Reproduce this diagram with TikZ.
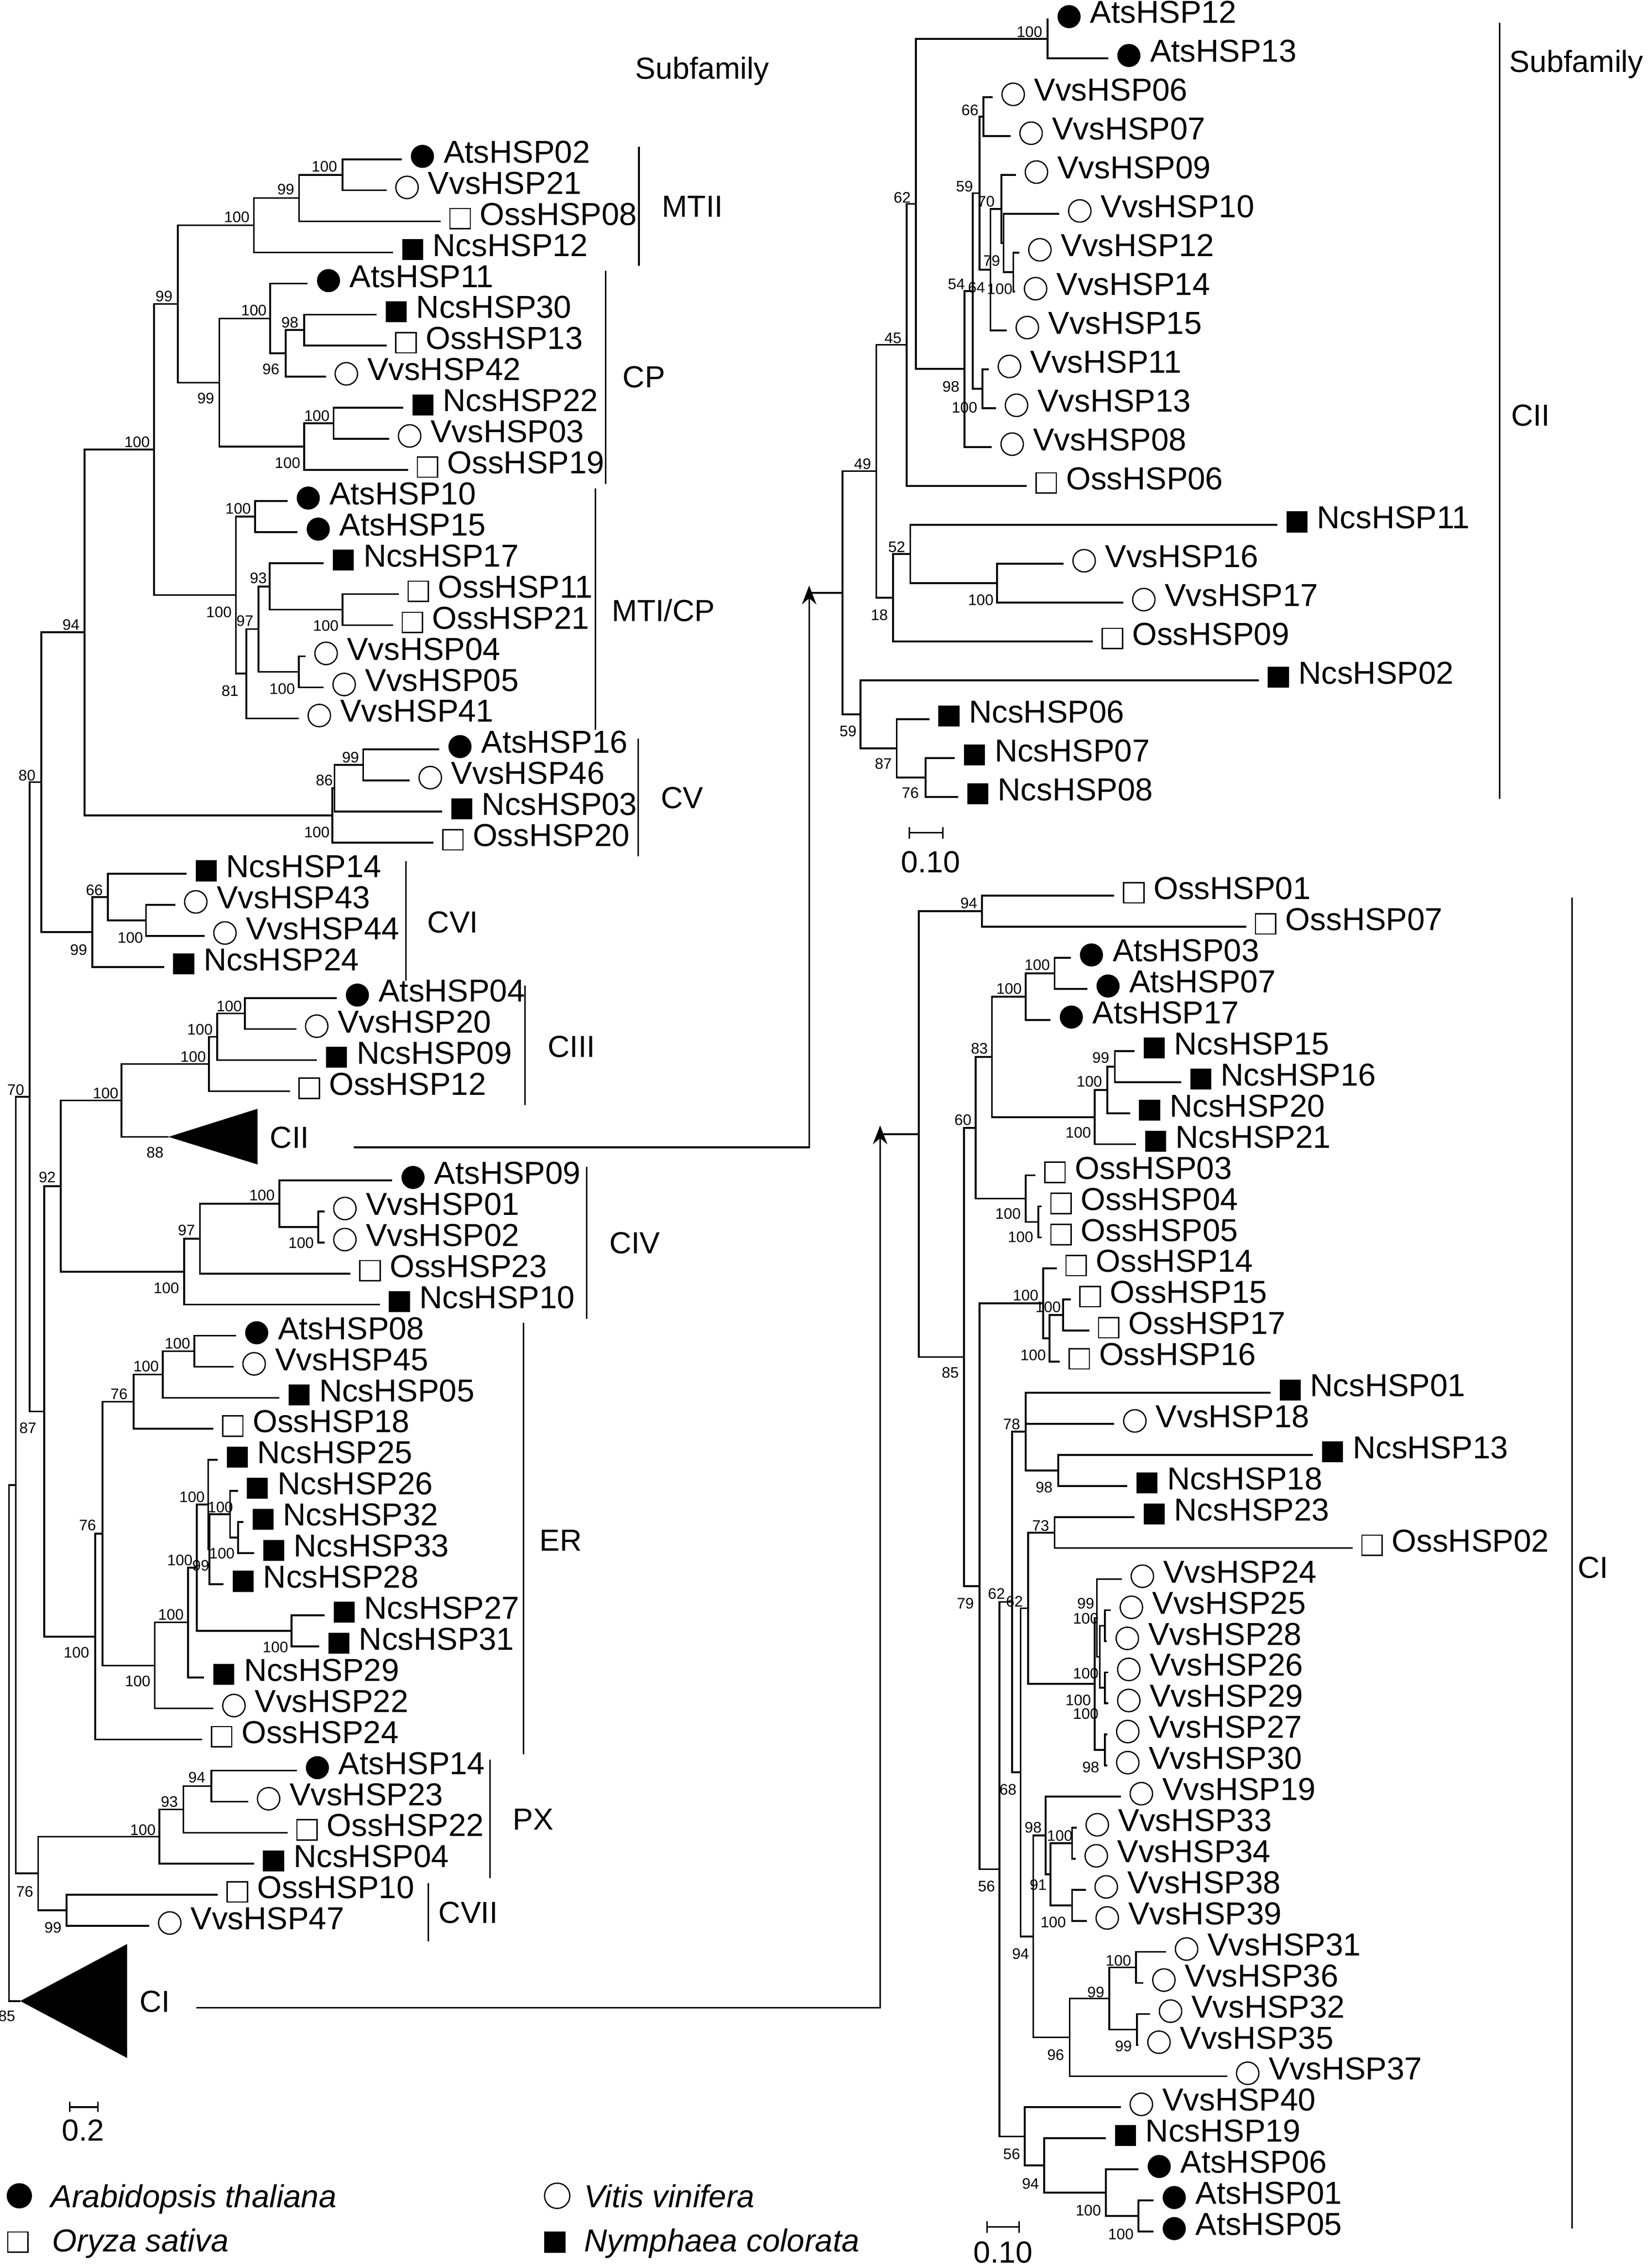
\documentclass[tikz,border=0pt]{standalone}
\usepackage{fontspec}
\setmainfont{Liberation Sans}
\usetikzlibrary{positioning,arrows.meta}

\tikzset{
  branch/.style={line width=0.7pt},
  ats/.style={circle, fill=black, inner sep=0, minimum size=0.32cm},
  vvs/.style={circle, draw, line width=0.5pt, inner sep=0, minimum size=0.31cm},
  oss/.style={rectangle, draw, line width=0.5pt, inner sep=0, minimum size=0.28cm},
  ncs/.style={rectangle, fill=black, inner sep=0, minimum size=0.29cm},
  leaf/.style={inner sep=0, font=\fontsize{12.5}{14}\selectfont},
  bs/.style={inner sep=0, font=\fontsize{6}{7}\selectfont},
  clade/.style={inner sep=0, anchor=base west, font=\fontsize{12}{14}\selectfont},
  bar/.style={line width=0.6pt},
  link/.style={line width=0.6pt, -{Stealth[length=0.26cm, width=0.2cm]}},
}

% internal nodes: name/parent/x/row
\def\treeL{nMTa/nMTb/237/0.5, nMTb/nMT/207/1.25, nMT/nMC/175.7/2.125,
  nC3/nC2/210.5/5.5, nC2/nC1/197.8/6.25, nC1/nCP/187/5.125, nC5/nC4/230.8/8.5,
  nC4/nCP/210.5/9.25, nCP/nMC/151.8/7.19, nMC/nP1/123/4.66,
  nM1/nMI/176.6/11.5, nM3/nM2/237/14.5, nM2/nM6/186.6/13.75, nM5/nM6/206.8/16.5,
  nM6/nM4/178.8/15.125, nM4/nMI/170.4/16.56, nMI/nP1/163.3/14.03, nP1/nP2/106.7/9.34,
  nCV1/nCVa/251.3/19.5, nCVa/nCVb/231.5/20.25, nCVb/nP2/230/21.125, nP2/nP3/58.5/15.23,
  nV2/nV1/101/24.5, nV1/nCVI/74.6/23.75, nCVI/nP3/63.8/24.875, nP3/nP4/28.6/20.05,
  nIII2/nIII1/169.5/27.5, nIII1/nCIII/150.2/28.25, nCIII/nC23/144.6/29.125,
  nCIIt/nC23/116.6/31.47, nC23/nQ/84/30.3,
  nIV3/nIV2/220.2/34.37, nIV2/nIV1/193.4/33.62, nIV1/nCIV/138.4/34.745,
  nCIV/nQ/127.5/35.81, nQ/nR/42/33.06,
  nE3/nE2/134.4/38.37, nE2/nE1/112.6/39.12, nE1/nE11/92.4/39.995,
  nE6/nE5/164.8/44.37, nE5/nE4b/159.2/43.62, nE4b/nE4/145/44.745, nE4/nE8/144.1/43.31,
  nE7/nE8/201.8/47.37, nE8/nE9/136.2/45.34, nE9/nE10/130.1/47.1, nE10/nE11/107.1/48.49,
  nE11/nE12/70.9/44.24, nE12/nR/65.9/47.56, nR/nP4/30.5/40.31, nP4/nP5/20.5/30.18,
  nPX1/nPX2/146.2/52.37, nPX2/nPX/126.9/53.12, nPX/nPXC/110.4/54,
  nCVII/nPXC/46/56.37, nPXC/nP5/26.4/55.18, nP5/nP6/10.9/42.68, nCIt/nP6/14/59.29}

\def\treeK{nK1/nK2/724.9/0.5, nK6/nK7/680.6/2.5, nK12/nK11/701.3/6.5,
  nK11/nK10/694.5/5.75, nK10/nK8/693/4.875, nK8/nK7/685.5/6.44, nK7/nK13/678/4.47,
  nK5/nK13/679.9/9.5, nK13/nK3/673.1/6.985, nK3/nK2/667.5/8.99, nK2/nK14/633.8/4.745,
  nK14/nK15/627.4/8.37, nK18/nK17/690/14.5, nK17/nK16/630/13.75, nK16/nK15/618/14.875,
  nK15/nK19/606.4/11.62, nK22/nK21/640.5/19.5, nK21/nK20/620.6/18.75, nK20/nK19/595.5/17.875}

\def\treeI{nI1/nI0/679.6/0.5, nI7/nI5/729.9/2.5, nI5/nI4/709.8/3.25,
  nI9/nI8/771.6/5.5, nI8/nI6/766.3/6.25, nI6/nI4/757.7/7.125, nI4/nI3/686.5/5.19,
  nI11/nI10/718.5/10.5, nI10/nI3/709.8/9.75, nI3/nI12/675.1/7.47,
  nI15/nI14/735.8/13.5, nI14/nI13/726.4/14.25, nI13/nI16/721.9/13.125,
  nI24/nI19/732.3/18.5, nI19/nI18/709.8/17.25, nI22/nI21/729.9/20.5,
  nVd/nVc/764.6/23.5, nVe/nVc/764.6/25.5, nVc/nVa/761.1/24.5, nVa/nI23/759.1/23.25,
  nVb/nI23/764.6/27.5, nI23/nI21/757.7/25.375, nI21/nI20/711.5/22.94,
  nI29/nI28/742/30.5, nI30/nI28/742/32.5, nI28/nI26/727.1/31.5, nI26/nI25/723.7/30.25,
  nI32/nI31/786.1/34.5, nI33/nI31/786.8/36.5, nI31/nI27/767.7/35.5, nI27/nI25/740.3/36.75,
  nI25/nI20/715/33.5, nI20/nI18/706.3/28.22, nI18/nI17/700.4/22.735,
  nI37/nI36/787.9/42.5, nI36/nI35/765.3/41.75, nI35/nI34/722.6/40.875,
  nI34/nI17/709.1/39.94, nI17/nI16/691.7/31.34, nI16/nI12/678/22.23, nI12/nI0/667.1/14.85}

\begin{document}
\begin{tikzpicture}[x=0.02cm, y=-0.02cm]
    \useasboundingbox (0,0) rectangle (1143,1568);

    % left tree
    \begin{scope}[shift={(0,110.2)}, y=-0.43cm]
        \coordinate (nP6) at (6.2,50.985);
        \foreach \n/\p/\x/\r in \treeL {\coordinate (\n) at (\x,\r);}
        \foreach \n/\p/\x/\r in \treeL {\draw[branch] (\p) |- (\n);}
        \foreach \t/\p/\x/\r/\s in {AtsHSP02/nMTa/278/0/ats, VvsHSP21/nMTa/267.5/1/vvs,
            OssHSP08/nMTb/305/2/oss, NcsHSP12/nMT/272/3/ncs, AtsHSP11/nC1/213/4/ats,
            NcsHSP30/nC3/260.6/5/ncs, OssHSP13/nC3/267.5/6/oss, VvsHSP42/nC2/225.5/7/vvs,
            NcsHSP22/nC5/279/8/ncs, VvsHSP03/nC5/269.3/9/vvs, OssHSP19/nC4/282.4/10/oss,
            AtsHSP10/nM1/199/11/ats, AtsHSP15/nM1/205.9/12/ats, NcsHSP17/nM2/224/13/ncs,
            OssHSP11/nM3/276/14/oss, OssHSP21/nM3/272/15/oss, VvsHSP04/nM5/211.5/16/vvs,
            VvsHSP05/nM5/224/17/vvs, VvsHSP41/nM4/206.8/18/vvs, AtsHSP16/nCV1/304/19/ats,
            VvsHSP46/nCV1/283.6/20/vvs, NcsHSP03/nCVa/306/21/ncs, OssHSP20/nCVb/300/22/oss,
            NcsHSP14/nV1/129/23/ncs, VvsHSP43/nV2/121.3/24/vvs, VvsHSP44/nV2/141.5/25/vvs,
            NcsHSP24/nCVI/113.5/26/ncs, AtsHSP04/nIII2/233/27/ats, VvsHSP20/nIII2/205/28/vvs,
            NcsHSP09/nIII1/219.3/29/ncs, OssHSP12/nCIII/200.6/30/oss,
            AtsHSP09/nIV2/271.5/32.87/ats, VvsHSP01/nIV3/224.5/33.87/vvs,
            VvsHSP02/nIV3/224.5/34.87/vvs, OssHSP23/nIV1/242.6/35.87/oss,
            NcsHSP10/nCIV/262.8/36.87/ncs, AtsHSP08/nE3/163.3/37.87/ats,
            VvsHSP45/nE3/161.7/38.87/vvs, NcsHSP05/nE2/193.4/39.87/ncs,
            OssHSP18/nE1/147.7/40.87/oss, NcsHSP25/nE4/150.6/41.87/ncs,
            NcsHSP26/nE5/164.6/42.87/ncs, NcsHSP32/nE6/168.4/43.87/ncs,
            NcsHSP33/nE6/175.8/44.87/ncs, NcsHSP28/nE4b/154.7/45.87/ncs,
            NcsHSP27/nE7/224.5/46.87/ncs, NcsHSP31/nE7/220.9/47.87/ncs,
            NcsHSP29/nE9/141.3/48.87/ncs, VvsHSP22/nE10/147.7/49.87/vvs,
            OssHSP24/nE12/140/50.87/oss, AtsHSP14/nPX1/205.3/51.87/ats,
            VvsHSP23/nPX1/171.7/52.87/vvs, OssHSP22/nPX2/199/53.87/oss,
            NcsHSP04/nPX/175.7/54.87/ncs, OssHSP10/nCVII/150.8/55.87/oss,
            VvsHSP47/nCVII/103.3/56.87/vvs} {
            \coordinate (e\t) at (\x,\r);
            \draw[branch] (\p) |- (e\t);
            \node[\s, right=0.12cm of e\t, yshift=0.04cm] (m\t) {};
            \node[leaf, right=0.12cm of m\t, yshift=0.06cm] (\t) {\t};
        }
    \end{scope}

    % right tree, CII
    \begin{scope}[shift={(0,13.5)}, y=-0.538cm]
        \coordinate (nK19) at (583.1,14.75);
        \coordinate (kstub) at (560,14.75);
        \foreach \n/\p/\x/\r in \treeK {\coordinate (\n) at (\x,\r);}
        \foreach \n/\p/\x/\r in \treeK {\draw[branch] (\p) |- (\n);}
        \draw[branch] (kstub) -- (nK19);
        \foreach \t/\p/\x/\r/\s in {AtsHSP12/nK1/725.5/0/ats, AtsHSP13/nK1/766.9/1/ats,
            VvsHSP06/nK6/687/2/vvs, VvsHSP07/nK6/699.4/3/vvs, VvsHSP09/nK10/703.1/4/vvs,
            VvsHSP10/nK11/733.1/5/vvs, VvsHSP12/nK12/705.5/6/vvs, VvsHSP14/nK12/702.5/7/vvs,
            VvsHSP15/nK8/696.8/8/vvs, VvsHSP11/nK5/684.4/9/vvs, VvsHSP13/nK5/689.3/10/vvs,
            VvsHSP08/nK3/686.3/11/vvs, OssHSP06/nK14/710.6/12/oss, NcsHSP11/nK17/883.9/13/ncs,
            VvsHSP16/nK18/736.1/14/vvs, VvsHSP17/nK18/777.4/15/vvs, OssHSP09/nK16/756.4/16/oss,
            NcsHSP02/nK20/871.1/17/ncs, NcsHSP06/nK21/643.1/18/ncs, NcsHSP07/nK22/660.8/19/ncs,
            NcsHSP08/nK22/663/20/ncs} {
            \coordinate (e\t) at (\x,\r);
            \draw[branch] (\p) |- (e\t);
            \node[\s, right=0.12cm of e\t, yshift=0.04cm] (m\t) {};
            \node[leaf, right=0.12cm of m\t, yshift=0.06cm] (\t) {\t};
        }
    \end{scope}

    % right tree, CI
    \begin{scope}[shift={(0,619.8)}, y=-0.43cm]
        \coordinate (nI0) at (635.8,7.675);
        \coordinate (istub) at (609.1,7.675);
        \foreach \n/\p/\x/\r in \treeI {\coordinate (\n) at (\x,\r);}
        \foreach \n/\p/\x/\r in \treeI {\draw[branch] (\p) |- (\n);}
        \draw[branch] (istub) -- (nI0);
        \foreach \t/\p/\x/\r/\s in {OssHSP01/nI1/771.2/0/oss, OssHSP07/nI1/862.5/1/oss,
            AtsHSP03/nI7/741/2/ats, AtsHSP07/nI7/752.5/3/ats, AtsHSP17/nI5/727.1/4/ats,
            NcsHSP15/nI9/785.1/5/ncs, NcsHSP16/nI9/817.4/6/ncs, NcsHSP20/nI8/782/7/ncs,
            NcsHSP21/nI6/786.1/8/ncs, OssHSP03/nI10/716.7/9/oss, OssHSP04/nI11/720.9/10/oss,
            OssHSP05/nI11/720.9/11/oss, OssHSP14/nI13/731.3/12/oss, OssHSP15/nI15/741/13/oss,
            OssHSP17/nI15/753.9/14/oss, OssHSP16/nI14/733.4/15/oss, NcsHSP01/nI19/879.2/16/ncs,
            VvsHSP18/nI19/771.2/17/vvs, NcsHSP13/nI24/908.7/18/ncs, NcsHSP18/nI24/780.2/19/ncs,
            NcsHSP23/nI22/785.1/20/ncs, OssHSP02/nI22/936.1/21/oss, VvsHSP24/nVa/776.4/22/vvs,
            VvsHSP25/nVd/768.8/23/vvs, VvsHSP28/nVd/766/24/vvs, VvsHSP26/nVe/767/25/vvs,
            VvsHSP29/nVe/767/26/vvs, VvsHSP27/nVb/766.3/27/vvs, VvsHSP30/nVb/766.3/28/vvs,
            VvsHSP19/nI26/775.7/29/vvs, VvsHSP33/nI29/745.2/30/vvs, VvsHSP34/nI29/744.5/31/vvs,
            VvsHSP38/nI30/751.4/32/vvs, VvsHSP39/nI30/752.1/33/vvs, VvsHSP31/nI32/807/34/vvs,
            VvsHSP36/nI32/791.3/35/vvs, VvsHSP32/nI33/795.9/36/vvs, VvsHSP35/nI33/787.9/37/vvs,
            VvsHSP37/nI27/849.3/38/vvs, VvsHSP40/nI34/775.7/39/vvs, NcsHSP19/nI35/765.3/40/ncs,
            AtsHSP06/nI36/787.9/41/ats, AtsHSP01/nI37/798.3/42/ats, AtsHSP05/nI37/798.3/43/ats} {
            \coordinate (e\t) at (\x,\r);
            \draw[branch] (\p) |- (e\t);
            \node[\s, right=0.12cm of e\t, yshift=0.04cm] (m\t) {};
            \node[leaf, right=0.12cm of m\t, yshift=0.06cm] (\t) {\t};
        }
    \end{scope}

    % collapsed clades and links
    \fill (nCIIt) -- ++(61.6,-19.4) -- ++(0,38.5) -- cycle;
    \fill (nCIt) -- ++(74,-39.5) -- ++(0,78.9) -- cycle;
    \node[clade] (tCII) at (186.6,794.5) {CII};
    \node[clade] (tCI) at (96.4,1392.4) {CI};
    \coordinate (cIIs) at (244.8,793.9);
    \coordinate (cIs) at (135.9,1389.2);
    \draw[link] (cIIs) -| ([yshift=0.1cm]kstub);
    \draw[link] (cIs) -| ([yshift=0.12cm]istub);

    % bootstrap values
    \foreach \v/\x/\y [count=\i] in {100/224.5/115.4, 99/197.8/131.0, 100/163.9/150.3,
        99/113.5/205.0, 100/175.7/214.7, 98/200.6/223.3, 96/187.5/255.4, 99/142.4/275.8,
        100/219.3/287.6, 100/199.0/320.4, 100/94.9/305.8, 100/164.8/352.0, 93/178.8/400.2,
        100/151.5/423.7, 97/169.5/429.6, 100/225.5/433.1, 100/195.3/476.8, 81/159.2/477.9,
        94/49.1/432.4, 99/242.6/524.0, 86/224.5/540.0, 100/219.3/575.9, 80/18.7/536.5,
        66/65.3/616.0, 100/90.2/649.0, 99/54.4/657.3, 100/158.6/696.2, 100/138.4/712.3,
        100/133.7/731.2, 100/73.1/756.4, 70/10.9/754.1, 88/107.3/797.4, 92/32.7/814.6,
        100/181.3/827.1, 97/129.1/851.2, 100/208.4/860.2, 100/115.1/891.3, 100/122.8/929.6,
        100/101.1/945.6, 76/82.4/964.5, 87/19.3/988.1, 76/60.6/1055.3, 100/132.9/1035.9,
        100/152.5/1043.0, 100/153.6/1074.9, 100/124.5/1079.6, 99/139.0/1083.2,
        100/190.6/1139.8, 100/118.3/1117.4, 100/95.3/1163.4, 100/52.9/1143.6,
        94/136.2/1229.9, 93/117.2/1246.6, 100/98.9/1266.4, 76/17.1/1308.8, 99/36.7/1333.7,
        85/4.7/1395.1}
        \node[bs] (bl\i) at (\x,\y) {\v};
    \foreach \v/\x/\y [count=\i] in {100/712.5/22.2, 66/671.3/76.3, 59/667.5/129,
        70/682.5/139.4, 79/686.3/180.5, 54/661.9/196.6, 64/675.8/198.9, 100/691.9/199.9,
        98/658.1/267.4, 100/667.5/281.9, 62/624.4/136.7, 45/618/234, 49/597/321,
        52/620.6/378.6, 100/678.8/415.3, 18/608.6/425.5, 59/586.9/506, 87/611.3/528.4,
        76/630/548.8}
        \node[bs] (bk\i) at (\x,\y) {\v};
    \foreach \v/\x/\y [count=\i] in {94/670.5/624.9, 100/717.8/667.8, 100/698.3/684.1,
        83/677.8/725.7, 99/761.8/732.1, 100/753.9/748.4, 60/666.4/775.0, 100/746.2/783.6,
        100/697.6/840.0, 100/706.3/856.1, 100/709.8/896.4, 100/725.4/904.4, 100/715/937.7,
        85/657.7/950, 78/700.1/985.6, 98/722.6/1029.3, 73/720.2/1055.6, 99/751.4/1109.6,
        79/668.1/1109.6, 62/689.6/1103, 62/702.1/1108.2, 100/751.4/1119.9, 100/751.4/1158,
        100/746.2/1176.5, 100/751.4/1185.8, 98/754.9/1222.8, 68/697.6/1238.3,
        98/715/1264.5, 100/733.4/1270.3, 56/682.7/1305.4, 91/718.5/1304.4,
        100/728.9/1330.2, 94/706.3/1351.9, 100/774/1356.7, 99/758.4/1378.4, 99/777.5/1416,
        96/730.6/1421.8, 56/700.1/1490.4, 94/713.2/1511, 100/753.2/1529.6, 100/775.7/1546.1}
        \node[bs] (bi\i) at (\x,\y) {\v};

    % subfamily bars and names
    \foreach \x/\a/\b in {442.2/101.4/184, 419.2/187.2/334.8, 412/338/505, 441.6/511/592.4,
        280.8/596/678.5, 363.2/682/764.7, 405.9/807.5/912.6, 362.3/915.4/1213.8,
        339/1217.6/1299.5, 296.4/1303/1343.3, 1038/15.8/552.9, 1088.1/621.2/1542}
        \draw[bar] (\x,\a) -- (\x,\b);
    \node[clade] (tMTII) at (457.8,150) {MTII};
    \node[clade] (tCP) at (430.7,268.3) {CP};
    \node[clade] (tMTICP) at (423,430) {MTI/CP};
    \node[clade] (tCV) at (457,559.4) {CV};
    \node[clade] (tCVI) at (295.5,645.5) {CVI};
    \node[clade] (tCIII) at (378.8,731.4) {CIII};
    \node[clade] (tCIV) at (421.4,867.5) {CIV};
    \node[clade] (tER) at (373.2,1073.2) {ER};
    \node[clade] (tPX) at (354.5,1266.3) {PX};
    \node[clade] (tCVII) at (303.2,1330.7) {CVII};
    \node[clade, anchor=base] (tSubL) at (486,54.5) {Subfamily};
    \node[clade] (tSubR) at (1044.4,49.8) {Subfamily};
    \node[clade] (tCIIr) at (1045.5,294.8) {CII};
    \node[clade] (tCIr) at (1091.6,1092.1) {CI};

    % scale bars
    \draw[bar] (48.2,1458) -- (67.8,1458);
    \draw[bar] (48.2,1454.4) -- (48.2,1461.5) (67.8,1454.4) -- (67.8,1461.5);
    \node[clade, anchor=base] (sL) at (57.5,1481.3) {0.2};
    \draw[bar] (629.3,576.3) -- (652.5,576.3);
    \draw[bar] (629.3,572.3) -- (629.3,580.3) (652.5,572.3) -- (652.5,580.3);
    \node[clade, anchor=base] (sK) at (644,603.8) {0.10};
    \draw[bar] (683,1541) -- (705.3,1541);
    \draw[bar] (683,1537) -- (683,1545) (705.3,1537) -- (705.3,1545);
    \node[clade, anchor=base] (sI) at (694.1,1565.8) {0.10};

    % legend
    \node[ats, minimum size=0.35cm] (gAt) at (13.4,1519.4) {};
    \node[oss] (gOs) at (12.4,1551.5) {};
    \node[vvs, minimum size=0.35cm] (gVv) at (385.6,1519.4) {};
    \node[ncs] (gNc) at (384,1551.5) {};
    \node[leaf, anchor=base west] (gAtT) at (34.8,1527.5) {\itshape Arabidopsis thaliana};
    \node[leaf, anchor=base west] (gOsT) at (35.8,1558.2) {\itshape Oryza sativa};
    \node[leaf, anchor=base west] (gVvT) at (404,1527.5) {\itshape Vitis vinifera};
    \node[leaf, anchor=base west] (gNcT) at (404,1558.2) {\itshape Nymphaea colorata};
\end{tikzpicture}
\end{document}
